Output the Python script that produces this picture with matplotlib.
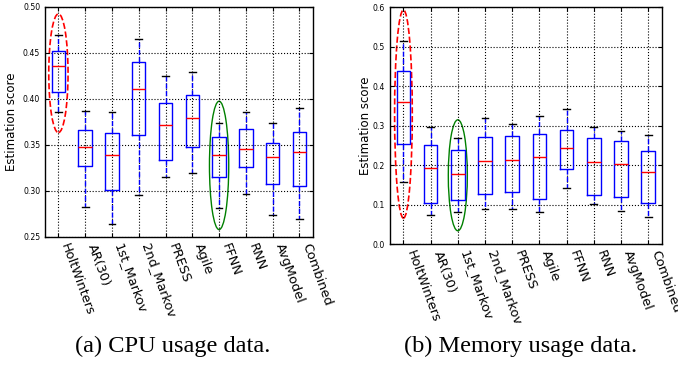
import numpy as np
import matplotlib
matplotlib.use("Agg")
import matplotlib.pyplot as plt
from matplotlib.patches import Ellipse

models = ["HoltWinters", "AR(30)", "1st_Markov", "2nd_Markov", "PRESS",
          "Agile", "FFNN", "RNN", "AvgModel", "Combined"]

# CPU usage data (box plot summary per model)
cpu_whislo = [0.3855, 0.2822, 0.2645, 0.296, 0.3152, 0.3192, 0.2812, 0.2967, 0.2743, 0.2692]
cpu_q1 = [0.408, 0.3272, 0.3007, 0.3605, 0.334, 0.3478, 0.3152, 0.3261, 0.308, 0.305]
cpu_med = [0.4355, 0.3475, 0.339, 0.4105, 0.3714, 0.3793, 0.339, 0.3457, 0.337, 0.342]
cpu_q3 = [0.452, 0.3663, 0.3634, 0.4399, 0.396, 0.404, 0.3587, 0.367, 0.3518, 0.3641]
cpu_whishi = [0.470, 0.387, 0.3855, 0.4652, 0.425, 0.429, 0.3739, 0.3855, 0.3736, 0.3899]

# Memory usage data
mem_whislo = [0.156, 0.0743, 0.0819, 0.0886, 0.0895, 0.0819, 0.1418, 0.1013, 0.0835, 0.069]
mem_q1 = [0.2523, 0.1038, 0.1105, 0.1266, 0.1316, 0.1148, 0.1899, 0.1249, 0.1198, 0.1046]
mem_med = [0.3603, 0.1924, 0.1764, 0.211, 0.2127, 0.2194, 0.2422, 0.2068, 0.2034, 0.1831]
mem_q3 = [0.4388, 0.2506, 0.2371, 0.2709, 0.2726, 0.2785, 0.2894, 0.2684, 0.2599, 0.2363]
mem_whishi = [0.514, 0.2962, 0.2684, 0.3198, 0.3038, 0.324, 0.3418, 0.297, 0.2852, 0.2751]


def make_stats(lo, q1, med, q3, hi):
    return [dict(whislo=a, q1=b, med=c, q3=d, whishi=e, fliers=[])
            for a, b, c, d, e in zip(lo, q1, med, q3, hi)]


def draw(ax, stats, yticks, fmt):
    ax.bxp(stats, widths=0.5,
           boxprops=dict(color="blue", lw=1),
           whiskerprops=dict(color="blue", ls="--", lw=1),
           capprops=dict(color="black", lw=1),
           medianprops=dict(color="red", lw=1))
    ax.set_xticks(range(1, len(models) + 1))
    ax.set_xticklabels(models, rotation=-70, ha="left", fontsize=9.3)
    ax.set_yticks(yticks)
    ax.set_yticklabels([fmt % v for v in yticks], fontsize=5.6)
    ax.set_ylim(yticks[0], yticks[-1])
    ax.set_xlim(0.5, len(models) + 0.5)
    ax.grid(True, ls=":", color="black", lw=0.8)
    ax.tick_params(direction="in", top=True, right=True, length=3)
    ax.set_ylabel("Estimation score", fontsize=8.5)
    for s in ax.spines.values():
        s.set_linewidth(1)


fig = plt.figure(figsize=(6.78, 3.66), dpi=100)

ax1 = fig.add_axes([0.0664, 0.3525, 0.395, 0.6284])
draw(ax1, make_stats(cpu_whislo, cpu_q1, cpu_med, cpu_q3, cpu_whishi),
     np.arange(0.25, 0.501, 0.05), "%.2f")
ax1.yaxis.set_label_coords(-0.10, 0.5)
ax1.add_patch(Ellipse((1, 0.428), 0.72, 0.129, fill=False, ec="red", ls="--", lw=1.2))
ax1.add_patch(Ellipse((7, 0.3278), 0.72, 0.1395, fill=False, ec="green", lw=1))

ax2 = fig.add_axes([0.575, 0.3333, 0.401, 0.6475])
draw(ax2, make_stats(mem_whislo, mem_q1, mem_med, mem_q3, mem_whishi),
     np.arange(0.0, 0.601, 0.1), "%.1f")
ax2.yaxis.set_label_coords(-0.066, 0.5)
ax2.add_patch(Ellipse((1, 0.329), 0.65, 0.527, fill=False, ec="red", ls="--", lw=1.2))
ax2.add_patch(Ellipse((3, 0.174), 0.70, 0.281, fill=False, ec="green", lw=1))

fig.text(0.255, 0.053, "(a) CPU usage data.", ha="center", va="center",
         fontsize=17.6, family="Liberation Serif")
fig.text(0.768, 0.053, "(b) Memory usage data.", ha="center", va="center",
         fontsize=17.6, family="Liberation Serif")

fig.savefig("out.png", dpi=100)
